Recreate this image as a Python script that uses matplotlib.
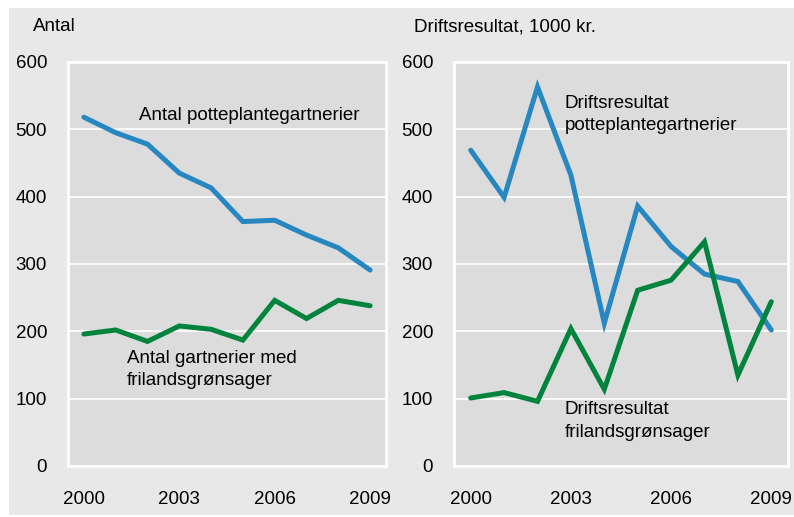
import matplotlib
matplotlib.use("Agg")
import matplotlib.pyplot as plt
from matplotlib.patches import Rectangle

plt.rcParams['font.family'] = ['Liberation Sans', 'DejaVu Sans']

years = [2000, 2001, 2002, 2003, 2004, 2005, 2006, 2007, 2008, 2009]
antal_potte = [518, 495, 478, 435, 413, 363, 365, 343, 324, 291]
antal_friland = [196, 202, 185, 208, 203, 187, 246, 219, 246, 238]
drift_potte = [469, 399, 563, 432, 212, 386, 326, 285, 274, 202]
drift_friland = [101, 109, 96, 204, 114, 261, 276, 333, 135, 244]
xticks = [2000, 2003, 2006, 2009]
yticks = [0, 100, 200, 300, 400, 500, 600]

BLUE = '#2787c0'
GREEN = '#00843d'
W, H = 794, 517
FS = 13.5

fig = plt.figure(figsize=(W / 100, H / 100), dpi=100)
fig.patch.set_facecolor('white')
fig.patches.append(Rectangle((9 / W, 2 / H), 1 - 9 / W, (H - 10) / H,
                             transform=fig.transFigure, facecolor='#e8e8e8',
                             edgecolor='none', zorder=-10))


def make_ax(x0, x1, y0=62, y1=466):
    ax = fig.add_axes([x0 / W, (H - y1) / H, (x1 - x0) / W, (y1 - y0) / H])
    ax.set_facecolor('#dcdcdc')
    for s in ax.spines.values():
        s.set_color('white')
        s.set_linewidth(2)
    ax.set_xlim(1999.5, 2009.5)
    ax.set_ylim(0, 600)
    ax.set_xticks(xticks)
    ax.set_yticks(yticks)
    ax.tick_params(length=0, labelsize=FS, colors='black')
    ax.tick_params(axis='y', pad=15)
    ax.tick_params(axis='x', pad=18)
    ax.grid(axis='y', color='white', linewidth=1.2)
    ax.set_axisbelow(True)
    return ax


lw = 3.6
ax1 = make_ax(68, 386)
ax1.plot(years, antal_potte, color=BLUE, lw=lw, solid_capstyle='round', solid_joinstyle='miter')
ax1.plot(years, antal_friland, color=GREEN, lw=lw, solid_capstyle='round', solid_joinstyle='miter')
ax1.text(2001.72, 520, 'Antal potteplantegartnerier', fontsize=FS, va='center', ha='left')
ax1.text(2001.35, 172, 'Antal gartnerier med\nfrilandsgrønsager', fontsize=FS, va='top', ha='left',
         linespacing=1.4)
fig.text(33 / W, 1 - 27 / H, 'Antal', fontsize=FS, va='center', ha='left')

ax2 = make_ax(454, 788)
ax2.plot(years, drift_potte, color=BLUE, lw=lw, solid_capstyle='round', solid_joinstyle='miter')
ax2.plot(years, drift_friland, color=GREEN, lw=lw, solid_capstyle='round', solid_joinstyle='miter')
ax2.text(2002.81, 551, 'Driftsresultat\npotteplantegartnerier', fontsize=FS, va='top', ha='left',
         linespacing=1.4)
ax2.text(2002.81, 96, 'Driftsresultat\nfrilandsgrønsager', fontsize=FS, va='top', ha='left',
         linespacing=1.4)
fig.text(414 / W, 1 - 27 / H, 'Driftsresultat, 1000 kr.', fontsize=FS, va='center', ha='left')

fig.savefig('out.png', dpi=100)
